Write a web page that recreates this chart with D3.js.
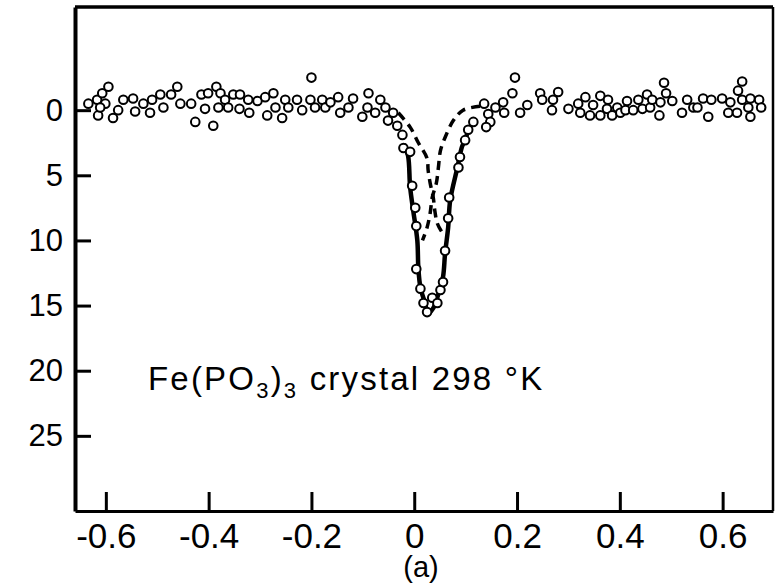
<!DOCTYPE html>
<html>
<head>
<meta charset="utf-8">
<script src="https://cdn.jsdelivr.net/npm/d3@7"></script>
<style>
  body { margin: 0; background: #fff; }
  svg { display: block; }
  .tick text { font-family: "Liberation Sans", Arial, sans-serif; fill: #000; }
  .label { font-family: "Liberation Sans", Arial, sans-serif; fill: #000; }
</style>
</head>
<body>
<div id="chart"></div>
<script>
// Velocity (x) and absorption (y) for the measured points
const pointX = [
  -0.634, -0.617, -0.607, -0.595, -0.601, -0.615, -0.611, -0.586, -0.576, -0.566,
  -0.547, -0.543, -0.527, -0.514, -0.510, -0.494, -0.488, -0.473, -0.461, -0.455,
  -0.434, -0.426, -0.414, -0.401, -0.385, -0.377, -0.407, -0.381, -0.391, -0.368,
  -0.362, -0.352, -0.339, -0.340, -0.323, -0.321, -0.305,
  -0.290, -0.274, -0.270, -0.286, -0.257, -0.251, -0.245, -0.228, -0.218, -0.202,
  -0.200, -0.193, -0.179, -0.173, -0.163, -0.148, -0.144, -0.128, -0.119, -0.101,
  -0.089, -0.091, -0.076, -0.066, -0.056, -0.041, -0.051, -0.033, -0.023, -0.021,
  -0.008,
  -0.004, 0.002, 0.004, 0.004, 0.012, 0.018, 0.025, 0.035, 0.045, 0.051,
  0.056, 0.060, 0.066, 0.068, 0.086, 0.089, 0.099, 0.105, 0.115,
  0.136, 0.144, 0.148, 0.140, 0.158, 0.173, 0.175, 0.191, 0.196, 0.206, 0.220,
  0.245, 0.249, 0.268, 0.270, 0.280, 0.300, 0.319, 0.323, 0.333, 0.342,
  0.348, 0.362, 0.362, 0.377, 0.375, 0.385, 0.395, 0.401, 0.414, 0.411,
  0.426, 0.436, 0.444, 0.453, 0.459, 0.463, 0.479, 0.477, 0.486, 0.490,
  0.502, 0.521, 0.531, 0.543, 0.551, 0.562, 0.572, 0.578, 0.599, 0.615,
  0.611, 0.628, 0.630, 0.638, 0.638, 0.654, 0.650, 0.654, 0.671, 0.675
];
const pointY = [
  -0.5, -0.8, -1.3, -1.8, -0.5, 0.4, -0.2, 0.6, 0.0, -0.8,
  -0.9, 0.1, -0.5, 0.2, -0.8, -1.2, -0.2, -1.2, -1.8, -0.5,
  -0.5, 0.9, -1.2, -1.3, -1.8, -1.3, -0.1, -0.2, 1.2, -0.8,
  -0.2, -1.2, -1.2, -0.1, -0.8, 0.2, -0.7,
  -1.0, -1.3, -0.2, 0.4, 0.6, -0.8, -0.2, -0.8, 0.0, -0.8,
  -2.5, -0.2, -0.8, -0.2, -0.6, -1.0, 0.2, -0.2, -0.9, 0.5,
  -1.3, -0.2, 0.2, -0.8, -0.2, 0.2, 0.8, 1.2, 1.9, 2.9,
  3.2,
  5.8, 7.5, 8.9, 12.2, 13.7, 14.8, 15.5, 14.4, 14.8, 13.8,
  13.2, 10.8, 8.3, 6.7, 4.4, 3.6, 2.3, 1.5, 0.9,
  -0.5, 0.3, 0.9, 1.3, -0.2, -0.6, 0.2, -1.3, -2.5, 0.2, -0.4,
  -1.3, -0.8, 0.0, -0.8, -1.4, -0.1, -0.5, 0.2, -1.0, 0.4,
  -0.4, -1.1, 0.4, -0.8, -0.1, 0.4, -0.2, 0.2, -0.7, 0.0,
  0.0, -0.8, -0.1, -1.2, -0.2, -0.8, -0.6, 0.4, -2.1, -1.3,
  -0.7, 0.2, -0.8, -0.2, -0.2, -0.9, 0.5, -0.8, -0.9, -0.6,
  0.2, 0.2, -1.5, -2.2, -0.8, -0.9, -0.2, 0.5, -0.8, -0.2
];

// Fitted total curve (solid)
const fitX = [-0.020, -0.012, -0.008, -0.002, 0.006, 0.008, 0.012, 0.021, 0.027,
              0.037, 0.047, 0.056, 0.060, 0.066, 0.070, 0.084, 0.093, 0.099, 0.105];
const fitY = [2.6, 3.5, 5.9, 7.7, 10.0, 12.1, 13.6, 14.8, 15.6,
              15.2, 14.1, 12.8, 11.0, 9.0, 6.9, 4.4, 2.8, 2.3, 1.5];

// Component lines (dashed), visible inner wings only
const compAX = [0.128, 0.095, 0.076, 0.060, 0.051, 0.047, 0.043, 0.035, 0.031, 0.025, 0.016];
const compAY = [-0.3, 0.0, 0.8, 2.1, 3.1, 4.4, 5.6, 6.7, 7.9, 9.0, 10.0];
const compBX = [-0.031, -0.008, 0.008, 0.025, 0.027, 0.031, 0.037, 0.040, 0.045, 0.056];
const compBY = [0.2, 1.3, 2.5, 3.7, 4.6, 5.6, 6.7, 7.7, 8.7, 9.5];

const xTicks = [-0.6, -0.4, -0.2, 0, 0.2, 0.4, 0.6];
const yTicks = [0, 5, 10, 15, 20, 25];

const width = 777, height = 587;
const margin = {top: 7, right: 4, bottom: 76, left: 75};

const svg = d3.select("#chart").append("svg")
    .attr("width", width)
    .attr("height", height);

const x = d3.scaleLinear().domain([-0.66, 0.698]).range([margin.left, width - margin.right]);
const y = d3.scaleLinear().domain([-7.92, 30.77]).range([margin.top, height - margin.bottom]);

const fmt = d => d === 0 ? "0" : d.toFixed(1);

// frame
svg.append("line")
    .attr("x1", x.range()[0]).attr("x2", x.range()[1])
    .attr("y1", y.range()[0]).attr("y2", y.range()[0])
    .attr("stroke", "#000").attr("stroke-width", 3.5);
svg.append("line")
    .attr("x1", x.range()[1]).attr("x2", x.range()[1])
    .attr("y1", y.range()[0]).attr("y2", y.range()[1])
    .attr("stroke", "#000").attr("stroke-width", 2.5);

const xAxis = svg.append("g")
    .attr("transform", "translate(0," + y.range()[1] + ")")
    .call(d3.axisBottom(x).tickValues(xTicks).tickFormat(fmt).tickSize(-19).tickSizeOuter(0).tickPadding(12));
xAxis.select(".domain").attr("stroke-width", 3);
xAxis.selectAll(".tick line").attr("stroke-width", 3);
xAxis.selectAll(".tick text").attr("font-size", 35);

const yAxis = svg.append("g")
    .attr("transform", "translate(" + x.range()[0] + ",0)")
    .call(d3.axisLeft(y).tickValues(yTicks).tickSize(-16).tickSizeOuter(0).tickPadding(12));
yAxis.select(".domain").attr("stroke-width", 4);
yAxis.selectAll(".tick line").attr("stroke-width", 3);
yAxis.selectAll(".tick text").attr("font-size", 31);

// component lines
const line = d3.line().x(d => x(d[0])).y(d => y(d[1])).curve(d3.curveCatmullRom);

[[compAX, compAY], [compBX, compBY]].forEach(c => {
  svg.append("path")
      .datum(d3.zip(c[0], c[1]))
      .attr("d", line)
      .attr("fill", "none")
      .attr("stroke", "#000")
      .attr("stroke-width", 3.5)
      .attr("stroke-dasharray", "9,6");
});

svg.append("path")
    .datum(d3.zip(fitX, fitY))
    .attr("d", line)
    .attr("fill", "none")
    .attr("stroke", "#000")
    .attr("stroke-width", 4.5);

// data points
svg.selectAll(".pt")
    .data(d3.zip(pointX, pointY))
    .enter().append("circle")
      .attr("class", "pt")
      .attr("cx", d => x(d[0]))
      .attr("cy", d => y(d[1]))
      .attr("r", 4.3)
      .attr("fill", "#fff")
      .attr("stroke", "#000")
      .attr("stroke-width", 2);

// annotation
const t = svg.append("text")
    .attr("class", "label")
    .attr("x", 148)
    .attr("y", 390)
    .attr("font-size", 33)
    .attr("letter-spacing", 2.2);
t.append("tspan").text("Fe(PO");
t.append("tspan").attr("font-size", 22).attr("dy", 8).text("3");
t.append("tspan").attr("dy", -8).text(")");
t.append("tspan").attr("font-size", 22).attr("dy", 8).text("3");
t.append("tspan").attr("dy", -8).text(" crystal 298 °K");

svg.append("text")
    .attr("class", "label")
    .attr("x", 421)
    .attr("y", 577)
    .attr("text-anchor", "middle")
    .attr("font-size", 29)
    .text("(a)");
</script>
</body>
</html>
